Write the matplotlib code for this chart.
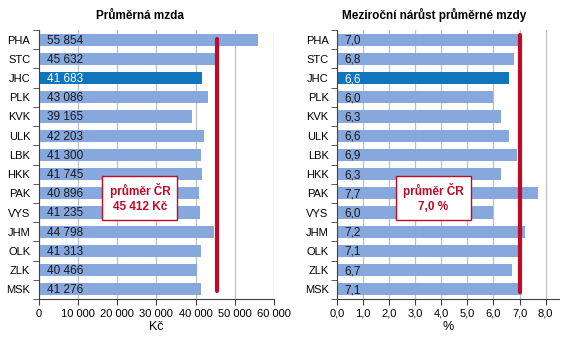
import matplotlib.pyplot as plt
import numpy as np

plt.rcParams['font.family'] = ['Liberation Sans', 'DejaVu Sans']

regions = ['PHA', 'STC', 'JHC', 'PLK', 'KVK', 'ULK', 'LBK', 'HKK',
           'PAK', 'VYS', 'JHM', 'OLK', 'ZLK', 'MSK']
wage = [55854, 45632, 41683, 43086, 39165, 42203, 41300, 41745,
        40896, 41235, 44798, 41313, 40466, 41276]
growth = [7.0, 6.8, 6.6, 6.0, 6.3, 6.6, 6.9, 6.3,
          7.7, 6.0, 7.2, 7.1, 6.7, 7.1]
wage_avg = 45412
growth_avg = 7.0
highlight = 'JHC'

light = '#86a8dc'
dark = '#0f75bd'
red = '#c00a26'


def fmt_int(v):
    return f'{v:,}'.replace(',', ' ')


def fmt_dec(v):
    return f'{v:.1f}'.replace('.', ',')


fig = plt.figure(figsize=(5.76, 3.42), dpi=100)
ax1 = fig.add_axes([0.067, 0.126, 0.409, 0.786])
ax2 = fig.add_axes([0.585, 0.126, 0.385, 0.786])

y = np.arange(len(regions))


def draw(ax, vals, avg, xmax, ticks, tickfmt, labfmt, title, xlabel, boxtext,
         box_xy, title_x, line_span):
    colors = [dark if r == highlight else light for r in regions]
    ax.barh(y, vals, height=0.64, color=colors, zorder=2)
    ax.set_ylim(len(regions) - 0.5, -0.5)
    ax.set_xlim(0, xmax)
    ax.set_xticks(ticks)
    ax.set_xticklabels([tickfmt(t) for t in ticks], fontsize=8)
    ax.set_yticks(y)
    ax.set_yticklabels(regions, fontsize=8)
    ax.set_yticks(np.arange(-0.5, len(regions) + 0.5, 1), minor=True)
    ax.tick_params(axis='y', which='major', length=0, pad=6)
    ax.tick_params(axis='y', which='minor', length=4, color='#404040')
    ax.tick_params(axis='x', length=4, color='#404040', pad=3)
    ax.grid(axis='x', color='#bfbfbf', linewidth=0.9, zorder=0)
    ax.set_axisbelow(True)
    for s in ['top', 'right']:
        ax.spines[s].set_visible(False)
    for s in ['left', 'bottom']:
        ax.spines[s].set_color('#404040')
    off = xmax * 0.035
    for i, (r, v) in enumerate(zip(regions, vals)):
        ax.text(off, i + 0.05, labfmt(v), va='center', ha='left', fontsize=8.5,
                color='white' if r == highlight else '#1a1a1a', zorder=3)
    ax.plot([avg, avg], line_span, color=red, linewidth=3,
            solid_capstyle='round', zorder=4)
    ax.text(box_xy[0], box_xy[1], boxtext, ha='center', va='center', fontsize=8.5,
            fontweight='bold', color=red, linespacing=1.3, zorder=5,
            bbox=dict(boxstyle='square,pad=0.6', facecolor='white', edgecolor=red, linewidth=1))
    ax.set_title(title, fontsize=8.5, fontweight='bold', x=title_x, pad=8)
    ax.set_xlabel(xlabel, fontsize=9, labelpad=2)


draw(ax1, wage, wage_avg, 60000, np.arange(0, 60001, 10000), fmt_int, fmt_int,
     'Průměrná mzda', 'Kč', 'průměr ČR\n45 412 Kč', (25800, 8.25), 0.43, [-0.05, 13.1])
draw(ax2, growth, growth_avg, 8.5, np.arange(0, 8.01, 1.0), fmt_dec, fmt_dec,
     'Meziroční nárůst průměrné mzdy', '%', 'průměr ČR\n7,0 %', (3.69, 8.25), 0.44, [-0.25, 13.15])

fig.savefig('out.png', dpi=100)
plt.close(fig)
